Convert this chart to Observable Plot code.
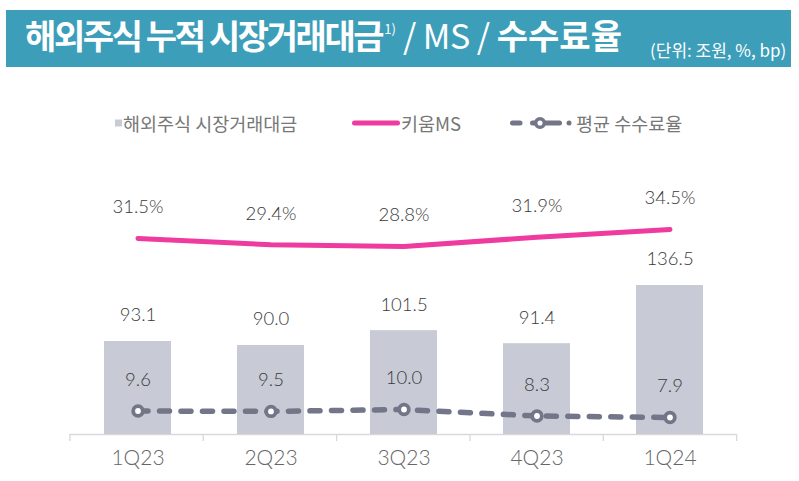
<!DOCTYPE html>
<html>
<head>
<meta charset="utf-8">
<script src="https://cdn.jsdelivr.net/npm/d3@7"></script>
<script src="https://cdn.jsdelivr.net/npm/@observablehq/plot@0.6"></script>
<style>
  html, body { margin: 0; padding: 0; background: #fff; }
  #root { position: relative; width: 799px; height: 481px; overflow: hidden; font-family: "Noto Sans CJK KR", "Noto Sans", sans-serif; }
  .layer { position: absolute; left: 0; top: 0; }
  #titlebar { position: absolute; left: 6px; top: 10px; width: 785px; height: 57px; background: #3c9eb9; color: #fff; }
  #title { position: absolute; left: 19px; top: 5px; font-size: 34px; line-height: 40px; white-space: nowrap; }
  #title .k1 { font-weight: 700; letter-spacing: -2.4px; }
  #title .k2 { font-weight: 700; }
  #title .r { font-weight: 400; letter-spacing: -0.5px; }
  #title sup { font-size: 13px; font-weight: 400; position: relative; top: -15px; vertical-align: baseline; margin-left: 2px; }
  #unit { position: absolute; left: 644px; top: 30px; font-size: 17px; line-height: 20px; white-space: nowrap; }
  #legend { position: absolute; top: 110px; left: 0; width: 799px; height: 26px; font-size: 18.5px; color: #777; }
  .lg { position: absolute; top: 0; height: 26px; line-height: 26px; white-space: nowrap; }
  .lg svg { position: absolute; top: 0; left: 0; }
</style>
</head>
<body>
<div id="root">
  <div id="titlebar">
    <div id="title"><span class="k1">해외주식 누적 시장거래대금</span><sup>1)</sup><span class="r"> / MS / </span><span class="k2">수수료율</span></div>
    <div id="unit">(단위: 조원, %, bp)</div>
  </div>
  <div id="legend"></div>
</div>
<script>
// ---- data ----
const quarters = ["1Q23", "2Q23", "3Q23", "4Q23", "1Q24"];
const tradeValue = [93.1, 90.0, 101.5, 91.4, 136.5];   // 해외주식 시장거래대금 (조원)
const kiwoomMS = [31.5, 29.4, 28.8, 31.9, 34.5];       // 키움MS (%)
const avgFee = [9.6, 9.5, 10.0, 8.3, 7.9];             // 평균 수수료율 (bp)
const legendLabels = ["해외주식 시장거래대금", "키움MS", "평균 수수료율"];
const barBase = 21;

const rows = quarters.map((q, i) => ({q, trade: tradeValue[i], ms: kiwoomMS[i], fee: avgFee[i]}));

const W = 799, H = 481;
const ML = 69.4, MR = 62.8;
const barColor = "#c8cbd5", pink = "#ef3b9f", feeColor = "#737589", labelColor = "#3a3a3a";
const font = '"Noto Sans CJK KR", "Noto Sans", sans-serif';
const numFont = 'Lato, "Noto Sans", sans-serif';
const root = document.getElementById("root");

function addLayer(p) { p.classList.add("layer"); root.appendChild(p); }

const common = {width: W, height: H, marginLeft: ML, marginRight: MR, style: {fontFamily: font, background: "transparent", overflow: "visible"}};
const xBand = {type: "band", domain: quarters, paddingInner: 0.5, paddingOuter: 0.25, align: 0.5, label: null};
const labelStyle = {fontSize: 18.5, fill: labelColor, fontWeight: 300, fontFamily: numFont};

// axis line and boundary ticks
addLayer(Plot.plot({
  ...common, marginTop: 300, marginBottom: 47,
  x: {type: "linear", domain: [0, quarters.length], label: null},
  y: {domain: [0, 1], axis: null},
  marks: [
    Plot.ruleY([0], {stroke: "#d9d9d9", strokeWidth: 1.3}),
    Plot.axisX(d3.range(quarters.length + 1), {tickSize: 7, tickFormat: () => "", stroke: "#d9d9d9", strokeWidth: 1.3, label: null})
  ]
}));

// bars
addLayer(Plot.plot({
  ...common, marginTop: 285, marginBottom: 47,
  x: xBand,
  y: {domain: [barBase, 136.5], axis: null},
  marks: [
    Plot.barY(rows, {x: "q", y1: barBase, y2: "trade", fill: barColor}),
    Plot.text(rows, {x: "q", y: "trade", text: d => d.trade.toFixed(1), dy: -26, ...labelStyle}),
    Plot.axisX({tickSize: 0, tickPadding: 16, fontSize: 21, color: "#666", fontWeight: 300, fontFamily: numFont, label: null})
  ]
}));

// MS line
addLayer(Plot.plot({
  ...common, marginTop: 229, marginBottom: H - 246,
  x: {...xBand, axis: null},
  y: {domain: [28.8, 34.5], axis: null},
  marks: [
    Plot.line(rows, {x: "q", y: "ms", stroke: pink, strokeWidth: 5, strokeLinecap: "round"}),
    Plot.text(rows, {x: "q", y: "ms", text: d => d.ms.toFixed(1) + "%", dy: -31, ...labelStyle})
  ]
}));

// fee line
addLayer(Plot.plot({
  ...common, marginTop: 409, marginBottom: H - 417,
  x: {...xBand, axis: null},
  y: {domain: [7.9, 10.0], axis: null},
  marks: [
    Plot.line(rows, {x: "q", y: "fee", stroke: feeColor, strokeWidth: 5.5, strokeLinecap: "round", strokeDasharray: "10,11.5"}),
    Plot.dot(rows, {x: "q", y: "fee", r: 4.8, fill: "#fff", stroke: feeColor, strokeWidth: 3.8}),
    Plot.text(rows, {x: "q", y: "fee", text: d => d.fee.toFixed(1), dy: -31, ...labelStyle})
  ]
}));

// legend
const legend = document.getElementById("legend");
legend.innerHTML = `
  <div class="lg" style="left:115px;"><svg width="8" height="26"><rect x="0" y="9.5" width="7" height="7" fill="${barColor}"/></svg><span style="margin-left:8px;">${legendLabels[0]}</span></div>
  <div class="lg" style="left:349px;"><svg width="54" height="26"><line x1="5.5" y1="13" x2="48.5" y2="13" stroke="${pink}" stroke-width="5" stroke-linecap="round"/></svg><span style="margin-left:52px;">${legendLabels[1]}</span></div>
  <div class="lg" style="left:508px;"><svg width="68" height="26"><line x1="4.5" y1="13" x2="12" y2="13" stroke="${feeColor}" stroke-width="5" stroke-linecap="round"/><line x1="24.5" y1="13" x2="51.5" y2="13" stroke="${feeColor}" stroke-width="5" stroke-linecap="round"/><circle cx="32" cy="13" r="4.3" fill="#fff" stroke="${feeColor}" stroke-width="3.5"/><circle cx="61" cy="13" r="2.5" fill="${feeColor}"/></svg><span style="margin-left:68px;">${legendLabels[2]}</span></div>
`;
</script>
</body>
</html>
